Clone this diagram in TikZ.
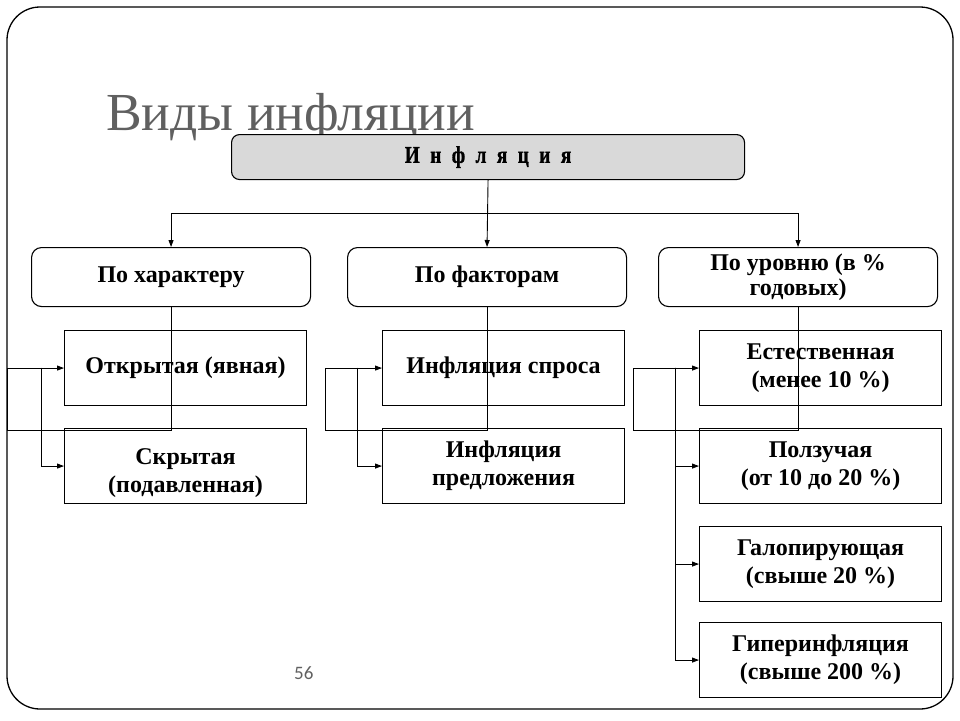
\documentclass[tikz,border=0pt]{standalone}
\usepackage{fontspec}
\setmainfont{Liberation Serif}
\newfontfamily\numfont{Carlito}
\newfontfamily\narrowbold[FakeStretch=0.8,FakeBold=1.2]{Liberation Serif Bold}
\usetikzlibrary{arrows.meta}
\definecolor{titlegray}{HTML}{606060}
\definecolor{topfill}{HTML}{D9D9D9}
\tikzset{
  box/.style={draw, line width=1.1pt, fill=white, inner sep=0pt, anchor=north west,
    minimum width=242pt, minimum height=75pt, align=center,
    font=\bfseries\fontsize{24}{28}\selectfont},
  catbox/.style={draw, line width=1.1pt, fill=white, inner sep=0pt, anchor=north west,
    rounded corners=10pt, minimum width=279pt, minimum height=59pt, align=center,
    font=\bfseries\fontsize{24}{25}\selectfont},
  topbox/.style={draw, line width=1.1pt, fill=topfill, inner sep=0pt, anchor=north west,
    rounded corners=8pt, minimum width=513pt, minimum height=45pt},
  conn/.style={line width=0.9pt},
  arr/.style={conn, -{Triangle[length=7pt,width=5pt]}},
}
\begin{document}
\begin{tikzpicture}[x=1pt,y=-1pt]
\useasboundingbox (0,0) rectangle (960,720);
% slide frame
\draw[line width=1.3pt, rounded corners=33pt] (7,7) rectangle (953,709);
% title
\node[anchor=base west, inner sep=0pt, text=titlegray, font=\fontsize{53.5}{60}\selectfont] (title) at (106,130) {Виды инфляции};
% page number
\node[anchor=base west, inner sep=0pt, text=titlegray, font=\numfont\fontsize{19}{20}\selectfont] (pnum) at (294,679) {56};
% top node
\node[topbox] (infl) at (231,134) {\narrowbold\fontsize{24}{25}\selectfont И\hspace{10.5pt}н\hspace{10.5pt}ф\hspace{10.5pt}л\hspace{10.5pt}я\hspace{10.5pt}ц\hspace{10.5pt}и\hspace{10.5pt}я};
% level 2
\node[catbox] (pch) at (31,247) {По характеру};
\node[catbox] (pfa) at (347,247) {По факторам};
\node[catbox] (plv) at (658,247) {По уровню (в \%\\годовых)};
% level 3
\node[box] (open) at (64,330) {Открытая (явная)};
\node[box] (hidden) at (64,428) {\raisebox{-7pt}[\height][\depth]{\begin{tabular}{@{}c@{}}Скрытая\\(подавленная)\end{tabular}}};
\node[box] (demand) at (382,330) {Инфляция спроса};
\node[box] (supply) at (382,428) {Инфляция\\предложения};
\node[box] (nat) at (699,330) {Естественная\\(менее 10 \%)};
\node[box] (creep) at (699,428) {Ползучая\\(от 10 до 20 \%)};
\node[box] (gallop) at (699,526) {Галопирующая\\(свыше 20 \%)};
\node[box] (hyper) at (699,622) {Гиперинфляция\\(свыше 200 \%)};
% connectors top
\coordinate (hj) at (487.5,213);
\draw[arr] (infl.south) -- (pfa.north);
\draw[arr] (hj) -| (pch.north);
\draw[arr] (hj) -| (plv.north);
% left group
\coordinate (jl) at (7,430);
\coordinate (bl) at (41,367.5);
\draw[arr] (pch.south) |- (jl) |- (open.west);
\draw[arr] (bl) |- (hidden.west);
% middle group
\coordinate (jm) at (325,430);
\coordinate (bm) at (357,367.5);
\draw[arr] (pfa.south) |- (jm) |- (demand.west);
\draw[arr] (bm) |- (supply.west);
% right group
\coordinate (jr) at (633,430);
\coordinate (br) at (675,367.5);
\draw[arr] (plv.south) |- (jr) |- (nat.west);
\draw[arr] (br) |- (creep.west);
\draw[arr] (br) |- (gallop.west);
\draw[arr] (br) |- (hyper.west);
\end{tikzpicture}
\end{document}
